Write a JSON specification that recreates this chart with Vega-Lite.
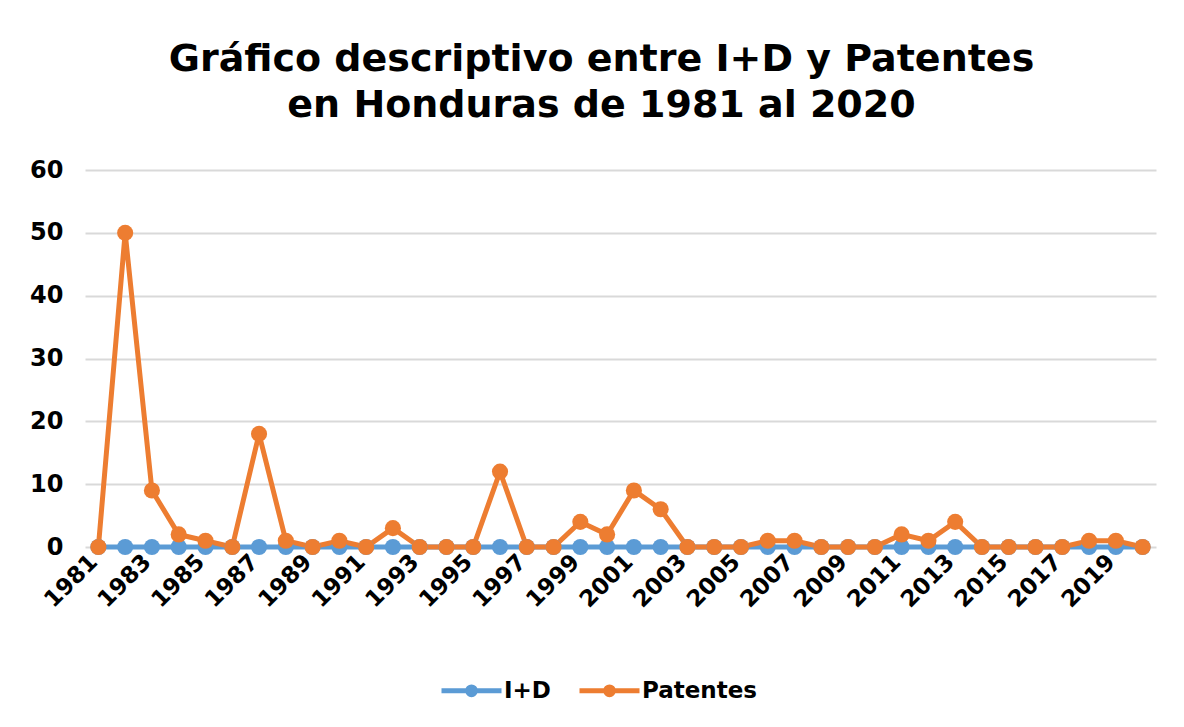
{
  "$schema": "https://vega.github.io/schema/vega-lite/v6.json",
  "width": 1071,
  "height": 377,
  "autosize": {"type": "none"},
  "padding": {"left": 85, "top": 170, "right": 28, "bottom": 180},
  "background": "white",
  "title": {
    "text": ["Gráfico descriptivo entre I+D y Patentes", "en Honduras de 1981 al 2020"],
    "font": "DejaVu Sans",
    "fontWeight": "bold",
    "fontSize": 38,
    "lineHeight": 46,
    "color": "black",
    "anchor": "middle",
    "frame": "group",
    "dx": -19,
    "offset": 33
  },
  "config": {
    "view": {"stroke": null},
    "font": "DejaVu Sans"
  },
  "data": {
    "values": [
      {"year": 1981, "serie": "I+D", "value": 0}, {"year": 1982, "serie": "I+D", "value": 0},
      {"year": 1983, "serie": "I+D", "value": 0}, {"year": 1984, "serie": "I+D", "value": 0},
      {"year": 1985, "serie": "I+D", "value": 0}, {"year": 1986, "serie": "I+D", "value": 0},
      {"year": 1987, "serie": "I+D", "value": 0}, {"year": 1988, "serie": "I+D", "value": 0},
      {"year": 1989, "serie": "I+D", "value": 0}, {"year": 1990, "serie": "I+D", "value": 0},
      {"year": 1991, "serie": "I+D", "value": 0}, {"year": 1992, "serie": "I+D", "value": 0},
      {"year": 1993, "serie": "I+D", "value": 0}, {"year": 1994, "serie": "I+D", "value": 0},
      {"year": 1995, "serie": "I+D", "value": 0}, {"year": 1996, "serie": "I+D", "value": 0},
      {"year": 1997, "serie": "I+D", "value": 0}, {"year": 1998, "serie": "I+D", "value": 0},
      {"year": 1999, "serie": "I+D", "value": 0}, {"year": 2000, "serie": "I+D", "value": 0},
      {"year": 2001, "serie": "I+D", "value": 0}, {"year": 2002, "serie": "I+D", "value": 0},
      {"year": 2003, "serie": "I+D", "value": 0}, {"year": 2004, "serie": "I+D", "value": 0},
      {"year": 2005, "serie": "I+D", "value": 0}, {"year": 2006, "serie": "I+D", "value": 0},
      {"year": 2007, "serie": "I+D", "value": 0}, {"year": 2008, "serie": "I+D", "value": 0},
      {"year": 2009, "serie": "I+D", "value": 0}, {"year": 2010, "serie": "I+D", "value": 0},
      {"year": 2011, "serie": "I+D", "value": 0}, {"year": 2012, "serie": "I+D", "value": 0},
      {"year": 2013, "serie": "I+D", "value": 0}, {"year": 2014, "serie": "I+D", "value": 0},
      {"year": 2015, "serie": "I+D", "value": 0}, {"year": 2016, "serie": "I+D", "value": 0},
      {"year": 2017, "serie": "I+D", "value": 0}, {"year": 2018, "serie": "I+D", "value": 0},
      {"year": 2019, "serie": "I+D", "value": 0}, {"year": 2020, "serie": "I+D", "value": 0},
      {"year": 1981, "serie": "Patentes", "value": 0}, {"year": 1982, "serie": "Patentes", "value": 50},
      {"year": 1983, "serie": "Patentes", "value": 9}, {"year": 1984, "serie": "Patentes", "value": 2},
      {"year": 1985, "serie": "Patentes", "value": 1}, {"year": 1986, "serie": "Patentes", "value": 0},
      {"year": 1987, "serie": "Patentes", "value": 18}, {"year": 1988, "serie": "Patentes", "value": 1},
      {"year": 1989, "serie": "Patentes", "value": 0}, {"year": 1990, "serie": "Patentes", "value": 1},
      {"year": 1991, "serie": "Patentes", "value": 0}, {"year": 1992, "serie": "Patentes", "value": 3},
      {"year": 1993, "serie": "Patentes", "value": 0}, {"year": 1994, "serie": "Patentes", "value": 0},
      {"year": 1995, "serie": "Patentes", "value": 0}, {"year": 1996, "serie": "Patentes", "value": 12},
      {"year": 1997, "serie": "Patentes", "value": 0}, {"year": 1998, "serie": "Patentes", "value": 0},
      {"year": 1999, "serie": "Patentes", "value": 4}, {"year": 2000, "serie": "Patentes", "value": 2},
      {"year": 2001, "serie": "Patentes", "value": 9}, {"year": 2002, "serie": "Patentes", "value": 6},
      {"year": 2003, "serie": "Patentes", "value": 0}, {"year": 2004, "serie": "Patentes", "value": 0},
      {"year": 2005, "serie": "Patentes", "value": 0}, {"year": 2006, "serie": "Patentes", "value": 1},
      {"year": 2007, "serie": "Patentes", "value": 1}, {"year": 2008, "serie": "Patentes", "value": 0},
      {"year": 2009, "serie": "Patentes", "value": 0}, {"year": 2010, "serie": "Patentes", "value": 0},
      {"year": 2011, "serie": "Patentes", "value": 2}, {"year": 2012, "serie": "Patentes", "value": 1},
      {"year": 2013, "serie": "Patentes", "value": 4}, {"year": 2014, "serie": "Patentes", "value": 0},
      {"year": 2015, "serie": "Patentes", "value": 0}, {"year": 2016, "serie": "Patentes", "value": 0},
      {"year": 2017, "serie": "Patentes", "value": 0}, {"year": 2018, "serie": "Patentes", "value": 1},
      {"year": 2019, "serie": "Patentes", "value": 1}, {"year": 2020, "serie": "Patentes", "value": 0}
    ]
  },
  "mark": {
    "type": "line",
    "strokeWidth": 5,
    "point": {"filled": true, "size": 260}
  },
  "encoding": {
    "x": {
      "field": "year",
      "type": "ordinal",
      "scale": {"type": "point", "padding": 0.5},
      "axis": {
        "title": null,
        "values": [1981, 1983, 1985, 1987, 1989, 1991, 1993, 1995, 1997, 1999, 2001, 2003, 2005, 2007, 2009, 2011, 2013, 2015, 2017, 2019],
        "labelAngle": -45,
        "labelAlign": "right",
        "labelBaseline": "middle",
        "labelFont": "DejaVu Sans",
        "labelFontWeight": "bold",
        "labelFontSize": 23,
        "labelColor": "black",
        "labelPadding": 11,
        "labelOffset": -5,
        "ticks": false,
        "domain": false,
        "grid": false
      }
    },
    "y": {
      "field": "value",
      "type": "quantitative",
      "scale": {"domain": [0, 60], "nice": false},
      "axis": {
        "title": null,
        "values": [0, 10, 20, 30, 40, 50, 60],
        "labelFont": "DejaVu Sans",
        "labelFontWeight": "bold",
        "labelFontSize": 24,
        "labelColor": "black",
        "labelPadding": 22,
        "ticks": false,
        "domain": false,
        "grid": true,
        "gridColor": "#D9D9D9",
        "gridWidth": 2
      }
    },
    "color": {
      "field": "serie",
      "type": "nominal",
      "scale": {"domain": ["I+D", "Patentes"], "range": ["#5B9BD5", "#ED7D31"]},
      "legend": {
        "title": null,
        "orient": "none",
        "direction": "horizontal",
        "legendX": 354,
        "legendY": 488,
        "symbolType": "M-1,0H1M-0.13,0A0.13,0.13,0,1,1,0.13,0A0.13,0.13,0,1,1,-0.13,0Z",
        "symbolSize": 3600,
        "symbolStrokeWidth": 5,
        "labelFont": "DejaVu Sans",
        "labelFontWeight": "bold",
        "labelFontSize": 23,
        "labelColor": "black",
        "labelOffset": 0,
        "columnPadding": 18
      }
    }
  }
}
